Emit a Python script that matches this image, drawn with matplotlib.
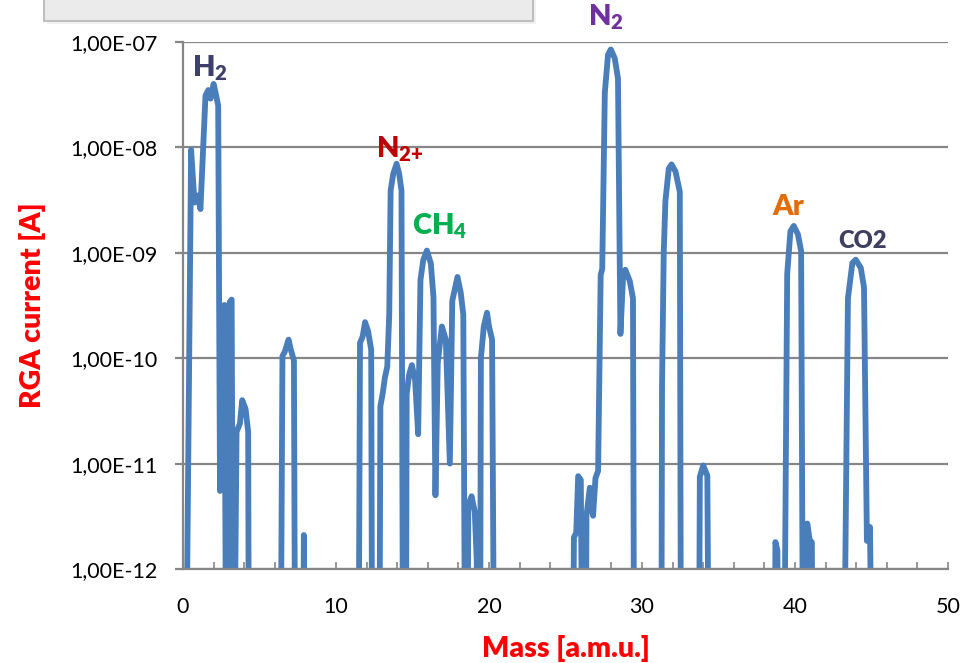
import numpy as np
import matplotlib.pyplot as plt
from matplotlib.patches import Rectangle
from matplotlib.ticker import FixedLocator, MultipleLocator

plt.rcParams['font.family'] = ['Lato', 'DejaVu Sans']
plt.rcParams['mathtext.fontset'] = 'custom'
plt.rcParams['mathtext.rm'] = 'Lato:heavy'
plt.rcParams['mathtext.it'] = 'Lato:heavy'
plt.rcParams['mathtext.bf'] = 'Lato:heavy'

# RGA scan, mass in a.m.u., current in A (0 = below the 1e-12 floor)
mass = [
    0.0, 0.15, 0.53, 0.75, 0.97, 1.14, 1.47, 1.65, 1.8, 2.0, 2.13, 2.3,
    2.42, 2.55, 2.7, 2.85, 3.05, 3.18, 3.3, 3.5, 3.72, 3.87, 4.09, 4.26, 4.32,
    6.35, 6.5, 6.65, 6.9, 7.05, 7.25, 7.35, 7.82, 7.9, 7.98,
    11.45, 11.57, 11.74, 11.9, 12.1, 12.3, 12.38,
    12.82, 12.9, 13.05, 13.2, 13.35, 13.48, 13.57, 13.74, 13.96, 14.13, 14.28, 14.4,
    14.55, 14.62, 14.78, 14.96, 15.17, 15.37, 15.52, 15.7, 15.94, 16.2, 16.37,
    16.5, 16.65, 16.92, 17.18, 17.44, 17.6, 17.94, 18.15, 18.32, 18.47,
    18.55, 18.65, 18.86, 19.07, 19.2, 19.3,
    19.4, 19.47, 19.66, 19.87, 20.0, 20.2, 20.37,
    25.45, 25.55, 25.7, 25.83, 26.0, 26.15, 26.3, 26.37, 26.59, 26.8, 26.96,
    27.13, 27.3, 27.4, 27.57, 27.78, 27.96, 28.22, 28.43, 28.59, 28.76, 28.91,
    29.2, 29.41, 29.5,
    31.25, 31.31, 31.42, 31.53, 31.75, 31.93, 32.19, 32.47, 32.56,
    33.7, 33.78, 34.0, 34.27, 34.4,
    38.65, 38.72, 38.85, 38.94,
    39.25, 39.49, 39.7, 39.92, 40.19, 40.4, 40.55,
    40.7, 40.8, 40.97, 41.1, 41.2,
    43.15, 43.46, 43.75, 43.97, 44.3, 44.51, 44.7, 44.9, 45.1,
]
current = [
    0, 0, 9.5e-9, 3.0e-9, 3.5e-9, 2.6e-9, 3.1e-8, 3.5e-8, 2.9e-8, 4.0e-8, 3.3e-8, 2.5e-8,
    5.5e-12, 3.0e-10, 3.2e-10, 0, 3.4e-10, 3.6e-10, 0, 2.0e-11, 2.4e-11, 4.0e-11, 3.3e-11, 2.0e-11, 0,
    0, 1.05e-10, 1.15e-10, 1.5e-10, 1.2e-10, 9.5e-11, 0, 0, 2.1e-12, 0,
    0, 1.4e-10, 1.6e-10, 2.2e-10, 1.8e-10, 1.2e-10, 0,
    0, 3.5e-11, 4.6e-11, 6.6e-11, 8.3e-11, 2.6e-10, 3.9e-9, 5.6e-9, 7.0e-9, 5.6e-9, 3.9e-9, 0,
    0, 4.6e-11, 7.0e-11, 8.6e-11, 6.2e-11, 1.9e-11, 5.5e-10, 8.5e-10, 1.05e-9, 7.9e-10, 3.8e-10,
    5.0e-12, 9.0e-11, 2.0e-10, 1.5e-10, 1.0e-11, 3.5e-10, 5.9e-10, 4.2e-10, 2.6e-10, 0,
    0, 4.0e-12, 4.9e-12, 3.5e-12, 1.2e-12, 0,
    0, 1.0e-10, 2.0e-10, 2.7e-10, 2.0e-10, 1.5e-10, 0,
    0, 2.0e-12, 2.2e-12, 7.6e-12, 7.0e-12, 0, 0, 3.2e-12, 5.9e-12, 3.2e-12, 7.3e-12,
    8.5e-12, 6.2e-10, 7.0e-10, 3.3e-8, 7.6e-8, 8.5e-8, 7.0e-8, 4.5e-8, 1.7e-10, 5.8e-10, 6.9e-10,
    5.4e-10, 3.7e-10, 0,
    0, 5.6e-11, 1.0e-9, 3.1e-9, 6.3e-9, 6.9e-9, 5.9e-9, 3.8e-9, 0,
    0, 7.5e-12, 9.6e-12, 7.7e-12, 0,
    0, 1.8e-12, 1.5e-12, 0,
    0, 6.3e-10, 1.6e-9, 1.8e-9, 1.5e-9, 1.04e-9, 0,
    0, 2.7e-12, 1.85e-12, 1.8e-12, 0,
    0, 3.7e-10, 8.0e-10, 8.6e-10, 7.2e-10, 4.7e-10, 1.85e-12, 2.5e-12, 0,
]

ytick_values = [1e-12, 1e-11, 1e-10, 1e-9, 1e-8, 1e-7]
ytick_labels = ['1,00E-12', '1,00E-11', '1,00E-10', '1,00E-09', '1,00E-08', '1,00E-07']
xtick_values = [0, 10, 20, 30, 40, 50]

peak_names = ['H$_\\mathrm{2}$', 'N$_\\mathrm{2}$', 'N$_\\mathrm{2{+}}$', 'CH$_\\mathrm{4}$', 'Ar', 'CO2']
peak_colors = ['#3F3F6B', '#7030A0', '#C00000', '#00B050', '#E36C0A', '#3F3F5F']

fig = plt.figure(figsize=(9.61, 6.63), dpi=100)
ax = fig.add_axes([183 / 961, 1 - 569 / 663, (948 - 183) / 961, (569 - 42) / 663])

# zero readings sit under the axis floor
y = np.where(np.array(current) > 0, current, 1e-14)
ax.plot(mass, y, color='#4A7EBB', lw=4.2, solid_joinstyle='round', solid_capstyle='round')

ax.set_yscale('log')
ax.set_ylim(1e-12, 1e-7)
ax.set_xlim(0, 50)
ax.yaxis.set_major_locator(FixedLocator(ytick_values))
ax.yaxis.set_minor_locator(FixedLocator([]))
ax.set_yticklabels(ytick_labels)
ax.set_xticks(xtick_values)
ax.xaxis.set_minor_locator(MultipleLocator(2))

ax.grid(axis='y', color='#868686', lw=1.6)
for s in ['top', 'right']:
    ax.spines[s].set_visible(False)
for s in ['left', 'bottom']:
    ax.spines[s].set_color('#868686')
    ax.spines[s].set_linewidth(1.6)
ax.tick_params(axis='y', which='major', direction='out', length=6, width=1.6, color='#868686',
               labelsize=15.5, pad=12)
ax.tick_params(axis='x', which='both', direction='in', length=5, width=1.2, color='#868686',
               labelsize=15.5, pad=20)
ax.set_axisbelow(True)

ax.set_xlabel('Mass [a.m.u.]', color='#FF0000', fontsize=20.5, fontweight='heavy', labelpad=13)
ax.set_ylabel('RGA current [A]', color='#FF0000', fontsize=20.5, fontweight='heavy', labelpad=18)

# peak labels, placed in data coords at their left/baseline
label_pos = [(0.59, 4.7e-8, 21), (26.45, 1.42e-7, 21), (12.6, 8.0e-9, 21),
             (14.95, 1.5e-9, 21), (38.55, 2.3e-9, 21), (42.8, 1.1e-9, 17)]
for name, col, (lx, ly, fs) in zip(peak_names, peak_colors, label_pos):
    ax.text(lx, ly, name, color=col, fontsize=fs, fontweight='heavy',
            ha='left', va='baseline', clip_on=False)

# the cut-off box at the top of the slide
fig.patches.append(Rectangle((47 / 961, 1 - 24 / 663), 489 / 961, 0.06, transform=fig.transFigure,
                             facecolor='#D8D8D8', edgecolor='none', alpha=0.35, zorder=0))
fig.patches.append(Rectangle((44 / 961, 1 - 21 / 663), 489 / 961, 0.06, transform=fig.transFigure,
                             facecolor='#EBEBEB', edgecolor='#BFBFBF', lw=1.5, zorder=1))

fig.savefig('out.png', dpi=100)
